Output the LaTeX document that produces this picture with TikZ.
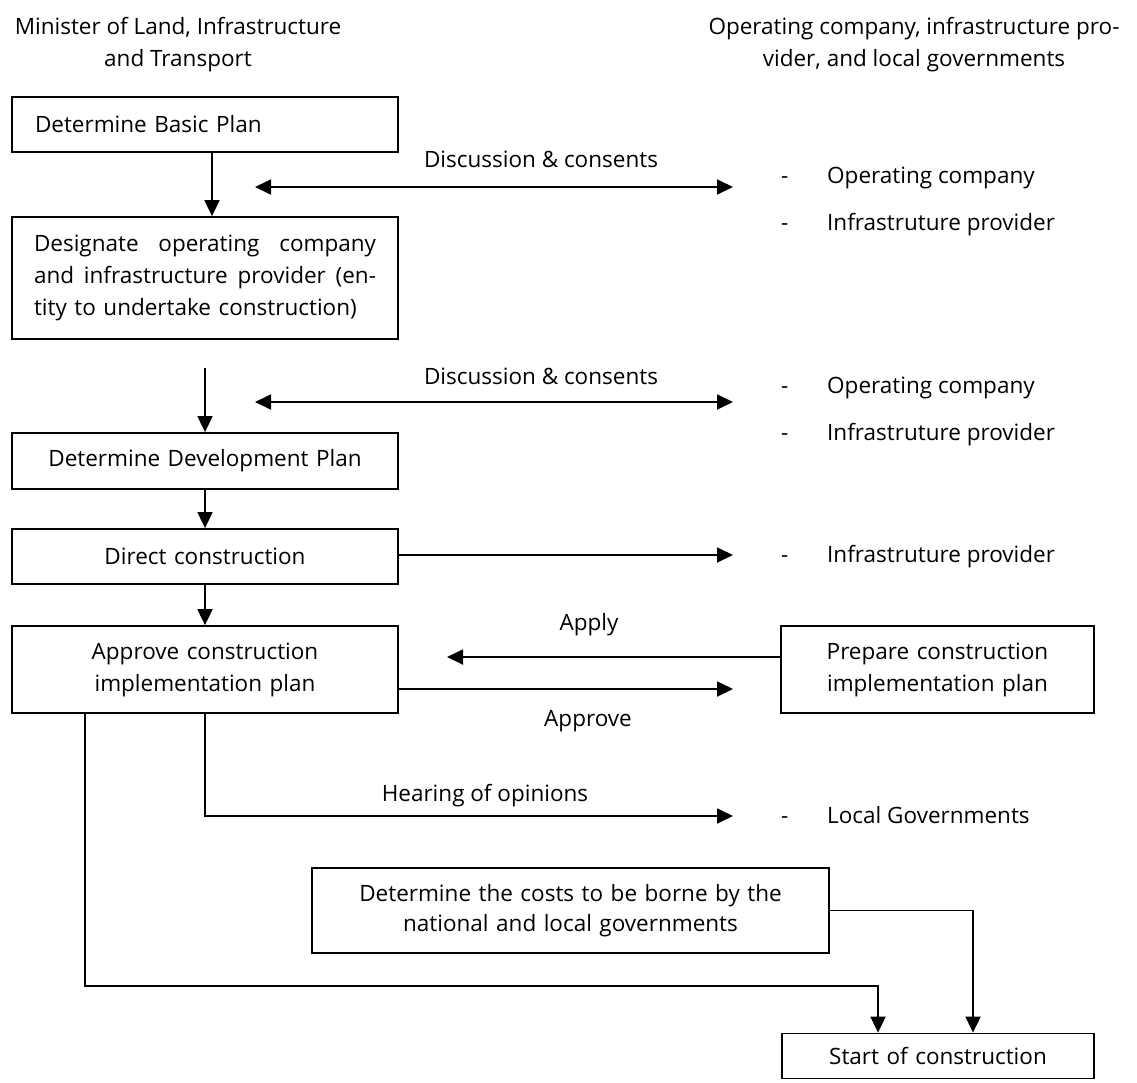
\documentclass[tikz,border=0pt]{standalone}
\usepackage{fontspec}
\setmainfont{Open Sans}
\usetikzlibrary{arrows.meta}
\newcommand\listdash{\makebox[46pt][l]{-}}
\begin{document}
\begin{tikzpicture}[x=1pt,y=-1pt,
  every node/.style={font=\fontsize{22.5}{32}\selectfont},
  box/.style={draw, line width=1.8pt, inner ysep=0pt, inner xsep=0pt, align=center},
  conn/.style={line width=1.8pt},
  arr/.style={conn, -{Triangle[length=16pt,width=15pt]}},
  darr/.style={conn, {Triangle[length=16pt,width=15pt]}-{Triangle[length=16pt,width=15pt]}},
  lbl/.style={anchor=base, inner sep=0pt},
  item/.style={anchor=base west, inner sep=0pt}]
\useasboundingbox (0,0) rectangle (1137,1082);

% column headings
\node[align=center] (tl) at (178,45) {Minister of Land, Infrastructure\\and Transport};
\node[align=center] (tr) at (914,45) {Operating company, infrastructure pro-\\vider, and local governments};

% left column of steps
\node[box, text width=340pt, inner xsep=23pt, align=left, minimum height=55pt] (b1) at (205,124.5) {Determine Basic Plan};
\node[box, text width=342pt, inner xsep=22pt, align=left, minimum height=122pt] (b2) at (205,278)
  {Designate\hfill operating\hfill company\\and\hfill infrastructure\hfill provider\hfill (en-\\tity to undertake construction)};
\node[box, text width=386pt, minimum height=56pt] (b3) at (205,461) {Determine Development Plan};
\node[box, text width=386pt, minimum height=55pt] (b4) at (205,556.5) {Direct construction};
\node[box, text width=386pt, minimum height=87pt] (b5) at (205,669.5) {Approve construction\\implementation plan};

% right-hand and lower boxes
\node[box, text width=313pt, minimum height=87pt] (bp) at (937.5,669.5) {Prepare construction\\implementation plan};
\node[box, text width=517pt, minimum height=85pt, font=\fontsize{22.5}{30}\selectfont] (bc) at (570.5,910.5) {Determine the costs to be borne by the\\national and local governments};
\node[box, text width=312pt, minimum height=45pt] (bs) at (938,1056) {Start of construction};

% main flow
\draw[arr] ([xshift=7pt]b1.south) -- ([xshift=7pt]b2.north);
\coordinate (a2) at (205,368);
\draw[arr] (a2) -- (b3.north);
\draw[arr] (b3.south) -- (b4.north);
\draw[arr] (b4.south) -- (b5.north);

% first consultation
\coordinate (d1w) at (255,187);
\coordinate (d1e) at (733,187);
\draw[darr] (d1w) -- (d1e);
\node[lbl] (d1t) at (541,167) {Discussion \& consents};
\node[item] (l1a) at (781,183) {\listdash Operating company};
\node[item] (l1b) at (781,230) {\listdash Infrastruture provider};

% second consultation
\coordinate (d2w) at (255,402);
\coordinate (d2e) at (733,402);
\draw[darr] (d2w) -- (d2e);
\node[lbl] (d2t) at (541,384) {Discussion \& consents};
\node[item] (l2a) at (781,393) {\listdash Operating company};
\node[item] (l2b) at (781,440) {\listdash Infrastruture provider};

% direction to the infrastructure provider
\coordinate (dc) at (733,555);
\draw[arr] (b4.east |- dc) -- (dc);
\node[item] (l3) at (781,562) {\listdash Infrastruture provider};

% application and approval
\coordinate (ap) at (447,657);
\draw[arr] (bp.west |- ap) -- (ap);
\node[lbl] (apt) at (589,630) {Apply};
\coordinate (av) at (733,689);
\draw[arr] (b5.east |- av) -- (av);
\node[lbl] (avt) at (588,726) {Approve};

% hearing of local governments
\coordinate (ht) at (733,816);
\draw[arr] (b5.south) |- (ht);
\node[lbl] (htt) at (485,801) {Hearing of opinions};
\node[item] (l4) at (781,823) {\listdash Local Governments};

% paths to the start of construction
\coordinate (lx) at (85,986);
\draw[arr] (b5.south -| lx) -- (lx) -| ([xshift=-60pt]bs.north);
\draw[arr] (bc.east) -| ([xshift=35pt]bs.north);
\end{tikzpicture}
\end{document}
